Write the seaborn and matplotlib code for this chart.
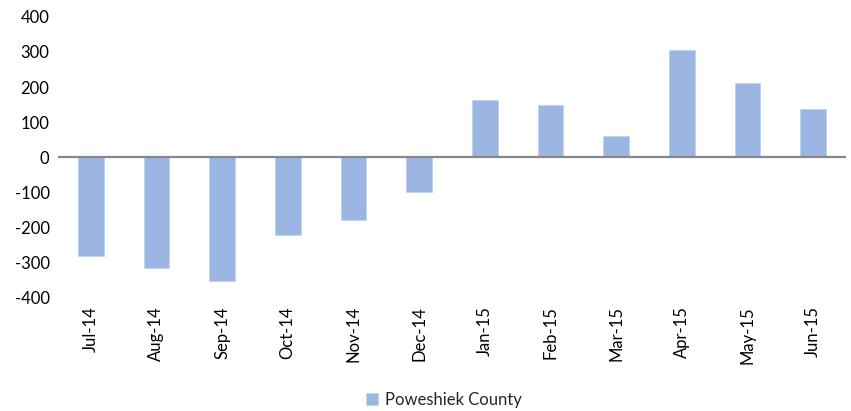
import matplotlib
matplotlib.use('Agg')
import matplotlib.pyplot as plt
import seaborn as sns
import pandas as pd

months = ['Jul-14', 'Aug-14', 'Sep-14', 'Oct-14', 'Nov-14', 'Dec-14',
          'Jan-15', 'Feb-15', 'Mar-15', 'Apr-15', 'May-15', 'Jun-15']
values = [-281, -316, -352, -222, -179, -99, 162, 150, 60, 307, 213, 139]
series_name = 'Poweshiek County'

df = pd.DataFrame({'month': months, 'value': values, 'series': series_name})

sns.set_theme(style='white')
plt.rcParams['font.family'] = ['Lato', 'DejaVu Sans']
plt.rcParams['axes.unicode_minus'] = False

fig = plt.figure(figsize=(8.51, 4.11), dpi=100)
ax = fig.add_axes([0.068, 0.275, 0.926, 0.684])

sns.barplot(data=df, x='month', y='value', hue='series', palette=['#9BB6E3'],
            width=0.39, saturation=1, ax=ax, edgecolor='#C3D3EE', linewidth=0.6)

ax.axhline(0, color='#878787', linewidth=1.6, zorder=3)
ax.set_ylim(-400, 400)
ax.set_yticks(range(-400, 401, 100))
ax.set_xlim(-0.5, len(months) - 0.5)
ax.set_xlabel('')
ax.set_ylabel('')
for s in ax.spines.values():
    s.set_visible(False)
ax.tick_params(axis='y', labelsize=12, colors='#000000', length=0, pad=6)
ax.tick_params(axis='x', labelsize=12, colors='#000000', length=0, pad=6, rotation=90)

ax.legend(loc='center', bbox_to_anchor=(0.49, -0.363), frameon=False,
          fontsize=12, handlelength=0.7, handleheight=0.7, handletextpad=0.4)

fig.savefig('out.png', dpi=100)
